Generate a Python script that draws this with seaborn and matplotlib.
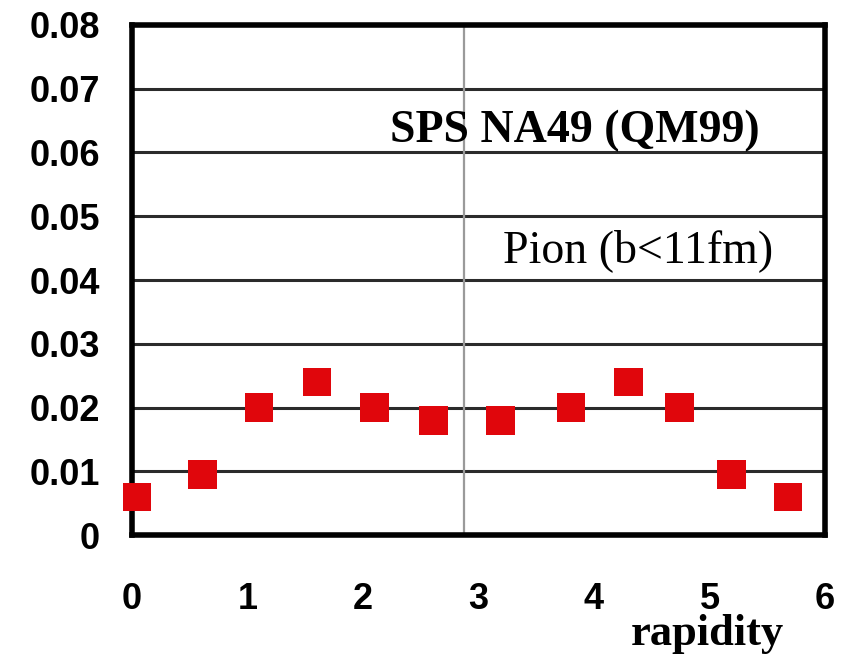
import matplotlib
matplotlib.use("Agg")
import matplotlib.pyplot as plt
import seaborn as sns
import pandas as pd

# Pion spectrum values vs rapidity (SPS NA49, QM99)
rapidity = [0.04, 0.61, 1.10, 1.60, 2.10, 2.61, 3.19, 3.80, 4.30, 4.74, 5.19, 5.68]
value = [0.006, 0.0095, 0.020, 0.024, 0.020, 0.018, 0.018, 0.020, 0.024, 0.020, 0.0095, 0.006]
x_ticks = [0, 1, 2, 3, 4, 5, 6]
y_ticks = [0, 0.01, 0.02, 0.03, 0.04, 0.05, 0.06, 0.07, 0.08]
y_tick_labels = ["0", "0.01", "0.02", "0.03", "0.04", "0.05", "0.06", "0.07", "0.08"]
mid_rapidity = 2.87

df = pd.DataFrame({"rapidity": rapidity, "value": value})

sns.set_theme(style="white")
plt.rcParams["font.family"] = ["Liberation Sans", "DejaVu Sans"]
plt.rcParams["text.color"] = "black"
plt.rcParams["xtick.labelcolor"] = "black"
plt.rcParams["ytick.labelcolor"] = "black"

fig = plt.figure(figsize=(8.47, 6.55), dpi=100)
ax = fig.add_axes([0.156, 0.183, 0.818, 0.779])

for yv in y_ticks[1:-1]:
    ax.axhline(yv, color="#2b2b2b", lw=2.2, zorder=1)
ax.axvline(mid_rapidity, color="#9a9a9a", lw=1.6, zorder=1)

sns.scatterplot(data=df, x="rapidity", y="value", marker="s", s=420,
                color="#e0060c", edgecolor="none", linewidth=0, ax=ax, zorder=3,
                clip_on=False)

ax.set_xlim(0, 6)
ax.set_ylim(0, 0.08)
ax.set_xticks(x_ticks)
ax.set_xticklabels([str(t) for t in x_ticks])
ax.set_yticks(y_ticks)
ax.set_yticklabels(y_tick_labels)
ax.tick_params(axis="y", direction="out", length=10, width=2, color="#222222",
               pad=13, labelsize=26, labelcolor="black")
ax.tick_params(axis="x", direction="out", length=9, width=2, color="#555555",
               pad=25, labelsize=26, labelcolor="black")
for lab in ax.get_yticklabels() + ax.get_xticklabels():
    lab.set_fontweight("bold")

for side in ["left", "right", "top", "bottom"]:
    ax.spines[side].set_visible(True)
    ax.spines[side].set_color("black")
    ax.spines[side].set_linewidth(4)

ax.set_xlabel("")
ax.set_ylabel("")

fig.text(707 / 847, 0.002, "rapidity", ha="center", va="bottom", color="black",
         family=["Liberation Serif"], fontweight="bold", fontsize=32)
ax.text(3.83, 0.0601, "SPS NA49 (QM99)", ha="center", va="bottom", color="black",
        family=["Liberation Serif"], fontweight="bold", fontsize=33, zorder=4)
ax.text(4.38, 0.0413, "Pion (b<11fm)", ha="center", va="bottom", color="black",
        family=["Liberation Serif"], fontsize=33, zorder=4)

fig.savefig("out.png", dpi=100, facecolor="white")
